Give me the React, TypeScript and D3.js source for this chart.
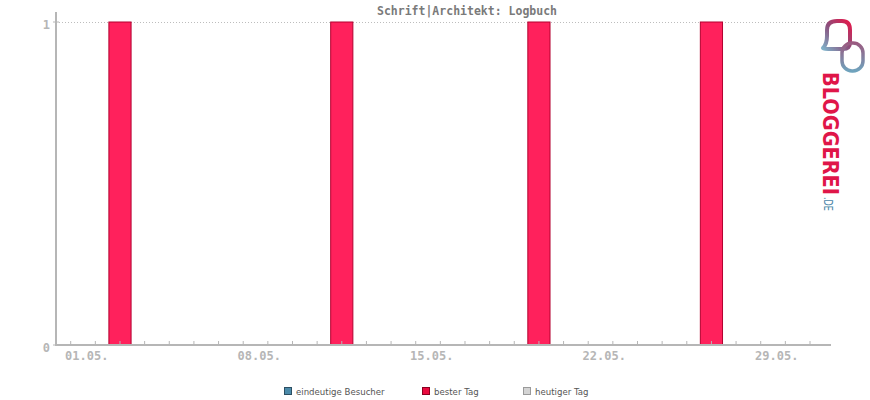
import * as d3 from 'd3';

const title = 'Schrift|Architekt: Logbuch';
const days = d3.range(1, 32);
const visitors = [0, 0, 1, 0, 0, 0, 0, 0, 0, 0, 0, 1, 0, 0, 0, 0, 0, 0, 0, 1, 0, 0, 0, 0, 0, 0, 1, 0, 0, 0, 0];
const labelDays = [1, 8, 15, 22, 29];
const yTicks = [0, 1];
const legendItems = [
  { label: 'eindeutige Besucher', fill: '#4b8aa9', stroke: '#2c4f63' },
  { label: 'bester Tag', fill: '#ea0a3f', stroke: '#8a0020' },
  { label: 'heutiger Tag', fill: '#d4d4d4', stroke: '#9a9a9a' },
];

const axisColor = '#b6b6b6';
const mono = '"DejaVu Sans Mono", "Liberation Mono", monospace';

const x = d3.scaleLinear().domain([1, 31]).range([70.7, 810]);
const y = d3.scaleLinear().domain([0, 1]).range([345, 22]);
const axisLeft = 56;
const axisRight = 831;
const step = x(2) - x(1);
const barW = step * 0.9;
const best = d3.max(visitors) ?? 0;

const pad = (n: number) => String(n).padStart(2, '0');

function Logo() {
  return (
    <g>
      <defs>
        <linearGradient id="logoGrad" gradientUnits="userSpaceOnUse" x1="0" y1="70" x2="0" y2="212">
          <stop offset="0%" stopColor="#df1648" />
          <stop offset="55%" stopColor="#8e3a6b" />
          <stop offset="100%" stopColor="#4c87a8" />
        </linearGradient>
        <linearGradient id="ringA" x1="0" y1="1" x2="1" y2="0">
          <stop offset="0%" stopColor="#7fb0c8" />
          <stop offset="50%" stopColor="#8a4f7c" />
          <stop offset="100%" stopColor="#e5174a" />
        </linearGradient>
        <linearGradient id="ringB" x1="0" y1="0" x2="0" y2="1">
          <stop offset="0%" stopColor="#9a5a80" />
          <stop offset="100%" stopColor="#6fa3bd" />
        </linearGradient>
      </defs>
      <path
        d="M823 48 Q827 44 827 36 L827 30 Q827 21 837 21 L842 21 Q850 21 850 30 L850 42 Q850 49 843 49 L832 49 Q824 49 823 48 Z"
        fill="none"
        stroke="url(#ringA)"
        strokeWidth={4}
        strokeLinejoin="round"
      />
      <rect x={842} y={43} width={21} height={28} rx={10} fill="none" stroke="url(#ringB)" strokeWidth={3.5} />
      <text
        transform="translate(823,72) rotate(90)"
        fontFamily='"DejaVu Sans", sans-serif'
        fontWeight="bold"
        fontSize={21}
        textLength={123}
        lengthAdjust="spacingAndGlyphs"
        fill="url(#logoGrad)"
      >
        BLOGGEREI
      </text>
      <text
        transform="translate(824,197) rotate(90)"
        fontFamily='"DejaVu Sans", sans-serif'
        fontSize={12}
        textLength={14}
        lengthAdjust="spacingAndGlyphs"
        fill="#4c87a8"
      >
        .DE
      </text>
    </g>
  );
}

export default function App() {
  return (
    <svg
      width={870}
      height={400}
      style={{ position: 'absolute', left: 0, top: 0, background: '#fff' }}
    >
      <text x={467} y={15} textAnchor="middle" fontFamily={mono} fontWeight="bold" fontSize={11.5} fill="#7a7a7a">
        {title}
      </text>

      {/* grid */}
      {yTicks
        .filter((t) => t > 0)
        .map((t) => (
          <line
            key={t}
            x1={axisLeft}
            x2={axisRight}
            y1={y(t) + 0.5}
            y2={y(t) + 0.5}
            stroke="#bdbdbd"
            strokeDasharray="1,2"
          />
        ))}

      {/* bars */}
      {days.map((d, i) =>
        visitors[i] > 0 ? (
          <rect
            key={d}
            x={x(d) - barW / 2}
            y={y(visitors[i])}
            width={barW}
            height={y(0) - y(visitors[i])}
            fill={visitors[i] === best ? '#ff215c' : '#4b8aa9'}
            stroke={visitors[i] === best ? '#b3002f' : '#2c4f63'}
            strokeWidth={1}
          />
        ) : null
      )}

      {/* axes */}
      <line x1={axisLeft} x2={axisLeft} y1={12} y2={346} stroke={axisColor} strokeWidth={2} />
      <line x1={axisLeft - 1} x2={axisRight} y1={345} y2={345} stroke={axisColor} strokeWidth={2} />
      {days.map((d) => (
        <line key={d} x1={x(d)} x2={x(d)} y1={341} y2={345} stroke={axisColor} strokeWidth={1} />
      ))}
      {yTicks.map((t) => (
        <g key={t}>
          <line x1={axisLeft - 3} x2={axisLeft + 3} y1={y(t)} y2={y(t)} stroke={axisColor} strokeWidth={1} />
          <text
            x={50}
            y={y(t) + 7}
            textAnchor="end"
            fontFamily={mono}
            fontWeight="bold"
            fontSize={12}
            fill={axisColor}
          >
            {t}
          </text>
        </g>
      ))}
      {labelDays.map((d) => (
        <text
          key={d}
          x={x(d) + 16}
          y={360}
          textAnchor="middle"
          fontFamily={mono}
          fontWeight="bold"
          fontSize={12}
          fill={axisColor}
        >
          {`${pad(d)}.05.`}
        </text>
      ))}

      {/* legend */}
      {legendItems.map((item, i) => {
        const lx = [284, 422, 523][i];
        return (
          <g key={item.label}>
            <rect x={lx + 0.5} y={387.5} width={7} height={7} fill={item.fill} stroke={item.stroke} />
            <text x={lx + 12} y={394.5} fontFamily='"DejaVu Sans", sans-serif' fontSize={8.6} fill="#555">
              {item.label}
            </text>
          </g>
        );
      })}

      <Logo />
    </svg>
  );
}
